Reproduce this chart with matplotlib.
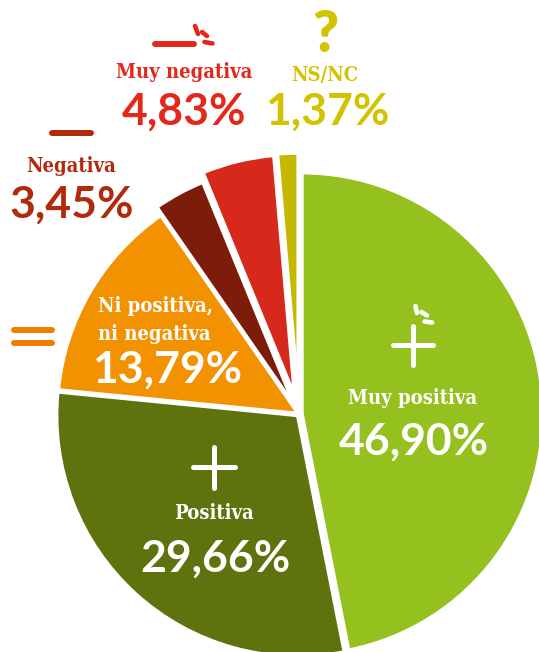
import matplotlib
matplotlib.use("Agg")
import matplotlib.pyplot as plt
from matplotlib import font_manager

# ---------------- data ----------------
categories = ["Muy positiva", "Positiva", "Ni positiva, ni negativa",
              "Negativa", "Muy negativa", "NS/NC"]
display_names = ["Muy positiva", "Positiva", "Ni positiva,\nni negativa",
                 "Negativa", "Muy negativa", "NS/NC"]
values = [46.90, 29.66, 13.79, 3.45, 4.83, 1.37]

# ---------------- style ----------------
slice_colors = ["#95c11f", "#5e720e", "#f39200", "#7e1c0b", "#d6281b", "#c5b900"]
label_colors = ["white", "white", "white", "#b02a0c", "#e3281b", "#d3c200"]
explode_px = [3, 2, 1, 10, 19, 20]

W, H = 539, 652
CX, CY, R = 299, 414, 241


def py(y):
    return H - y


names_avail = {f.name for f in font_manager.fontManager.ttflist}
if "DejaVu Serif Condensed" in names_avail:
    SLAB = dict(family="DejaVu Serif Condensed", weight="bold")
else:
    SLAB = dict(family="DejaVu Serif", weight="bold", stretch="condensed")
NAME_FS = 14.5
SANS = dict(family=["Lato", "DejaVu Sans"], weight="bold")

fig = plt.figure(figsize=(W / 100, H / 100), dpi=100)
ax = fig.add_axes([0, 0, 1, 1])

wedges, _ = ax.pie(values, colors=slice_colors, startangle=90, counterclock=False,
                   radius=R, center=(CX, py(CY)), explode=explode_px,
                   wedgeprops=dict(edgecolor="white", linewidth=2.5),
                   frame=False)
ax.set_xlim(0, W)
ax.set_ylim(0, H)
ax.set_aspect("equal")
ax.axis("off")

# label layout (pixel coords from top): name anchor + alignment, percent baseline
layout = {
    "Muy positiva": ((413, 404, "center"), (414, 455)),
    "Positiva": ((214, 519, "center"), (215, 572)),
    "Ni positiva, ni negativa": ((98, 312, "left"), (167, 383)),
    "Negativa": ((71, 172, "center"), (72, 218)),
    "Muy negativa": ((184, 78, "center"), (184, 125)),
    "NS/NC": ((325, 81, "center"), (327, 125)),
}

PCT_FS = 32
LINE_GAP = 27.5

for cat, name, val, col in zip(categories, display_names, values, label_colors):
    (nx, ny, nha), (px, ppy) = layout[cat]
    for i, line in enumerate(name.split("\n")):
        ax.text(nx, py(ny + i * LINE_GAP), line, ha=nha, va="baseline",
                color=col, fontsize=NAME_FS, **SLAB)
    pct = f"{val:.2f}".replace(".", ",") + "%"
    ax.text(px, py(ppy), pct, ha="center", va="baseline", color=col,
            fontsize=PCT_FS, **SANS)


def seg(x0, y0, x1, y1, color, lw):
    ax.plot([x0, x1], [py(y0), py(y1)], color=color, lw=lw,
            solid_capstyle="round")


# icons
# Muy negativa: dash with sparks
seg(155, 44, 194, 44, "#e3281b", 4.3)
seg(195, 26, 198, 34, "#e3281b", 3.3)
seg(202, 32, 207, 36, "#e3281b", 3.3)
seg(204.5, 42, 212.5, 43.5, "#e3281b", 3.3)
# Negativa: dash
seg(52, 133, 91, 133, "#b02a0c", 4.3)
# Ni positiva ni negativa: equals
seg(14, 330, 52, 330, "#ef7d00", 4.3)
seg(14, 343, 52, 343, "#ef7d00", 4.3)
# NS/NC: question mark
ax.text(325, py(52), "?", ha="center", va="baseline", color="#d3c200",
        fontsize=40, family=["Lato", "DejaVu Sans"], weight="heavy")
# Muy positiva: plus with sparks
seg(413, 326, 413, 365, "white", 3.6)
seg(393, 345, 433, 345, "white", 3.6)
seg(415.5, 306, 417, 313, "white", 3.3)
seg(421.5, 312, 427, 315.5, "white", 3.3)
seg(424.5, 321.5, 432, 322.5, "white", 3.3)
# Positiva: plus
seg(214, 447, 214, 488, "white", 3.6)
seg(193, 467, 235, 467, "white", 3.6)

fig.savefig("out.png", dpi=100)
